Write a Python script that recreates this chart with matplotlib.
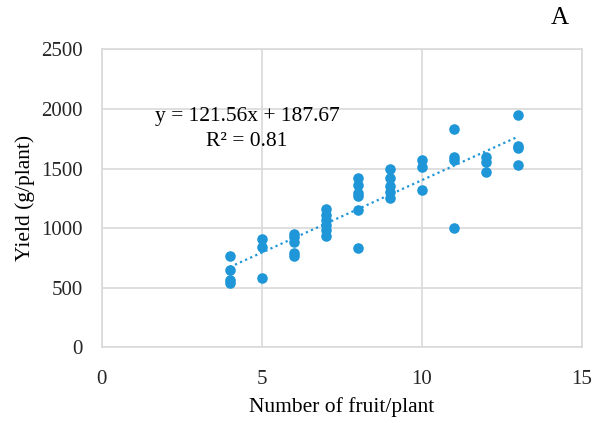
import numpy as np
import matplotlib
matplotlib.use("Agg")
import matplotlib.pyplot as plt

# fruit number per plant and yield (g/plant)
frutos = [4, 4, 4, 4,
          5, 5, 5,
          6, 6, 6, 6, 6,
          7, 7, 7, 7, 7, 7,
          8, 8, 8, 8, 8, 8,
          9, 9, 9, 9, 9,
          10, 10, 10,
          11, 11, 11, 11,
          12, 12, 12,
          13, 13, 13, 13]
producao = [770, 645, 565, 540,
            905, 845, 580,
            950, 925, 887, 795, 767,
            1158, 1110, 1068, 1030, 985, 934,
            1418, 1362, 1298, 1270, 1153, 836,
            1494, 1418, 1354, 1306, 1251,
            1573, 1516, 1321,
            1830, 1600, 1573, 999,
            1595, 1558, 1469,
            1950, 1690, 1670, 1531]

coef_a = 121.56
coef_b = 187.67
r2 = 0.81

plt.rcParams['font.family'] = ['Liberation Serif', 'DejaVu Serif']

fig = plt.figure(figsize=(5.96, 4.23), dpi=100)
ax = fig.add_axes([0.171, 0.179, 0.8055, 0.704])

cor = "#1f96d8"
cinza = "#d9d9d9"

ax.scatter(frutos, producao, s=58, color=cor, zorder=3, linewidths=0)
xl = np.array([min(frutos), max(frutos)])
ax.plot(xl, coef_a * xl + coef_b, linestyle=(0, (1, 1.5)), color=cor, linewidth=1.6, zorder=2)

ax.set_xlim(0, 15)
ax.set_ylim(0, 2500)
ax.set_xticks([0, 5, 10, 15])
ax.set_yticks(range(0, 2501, 500))
ax.grid(color=cinza, linewidth=1.2, zorder=0)
ax.set_axisbelow(True)
for s in ax.spines.values():
    s.set_color(cinza)
    s.set_linewidth(1.2)
ax.tick_params(length=0, labelsize=15, colors="#262626")
ax.tick_params(axis="x", pad=16)
ax.tick_params(axis="y", pad=14)

ax.set_xlabel("Number of fruit/plant", fontsize=15.5, labelpad=6)
ax.set_ylabel("Yield (g/plant)", fontsize=15.5, labelpad=4)

ax.text(4.53, 1934, f"y = {coef_a}x + {coef_b}", fontsize=15.5, ha="center", va="center")
ax.text(4.53, 1724, f"R² = {r2}", fontsize=15.5, ha="center", va="center")
fig.text(0.94, 0.957, "A", fontsize=18, ha="center", va="center")

fig.savefig("out.png", dpi=100)
